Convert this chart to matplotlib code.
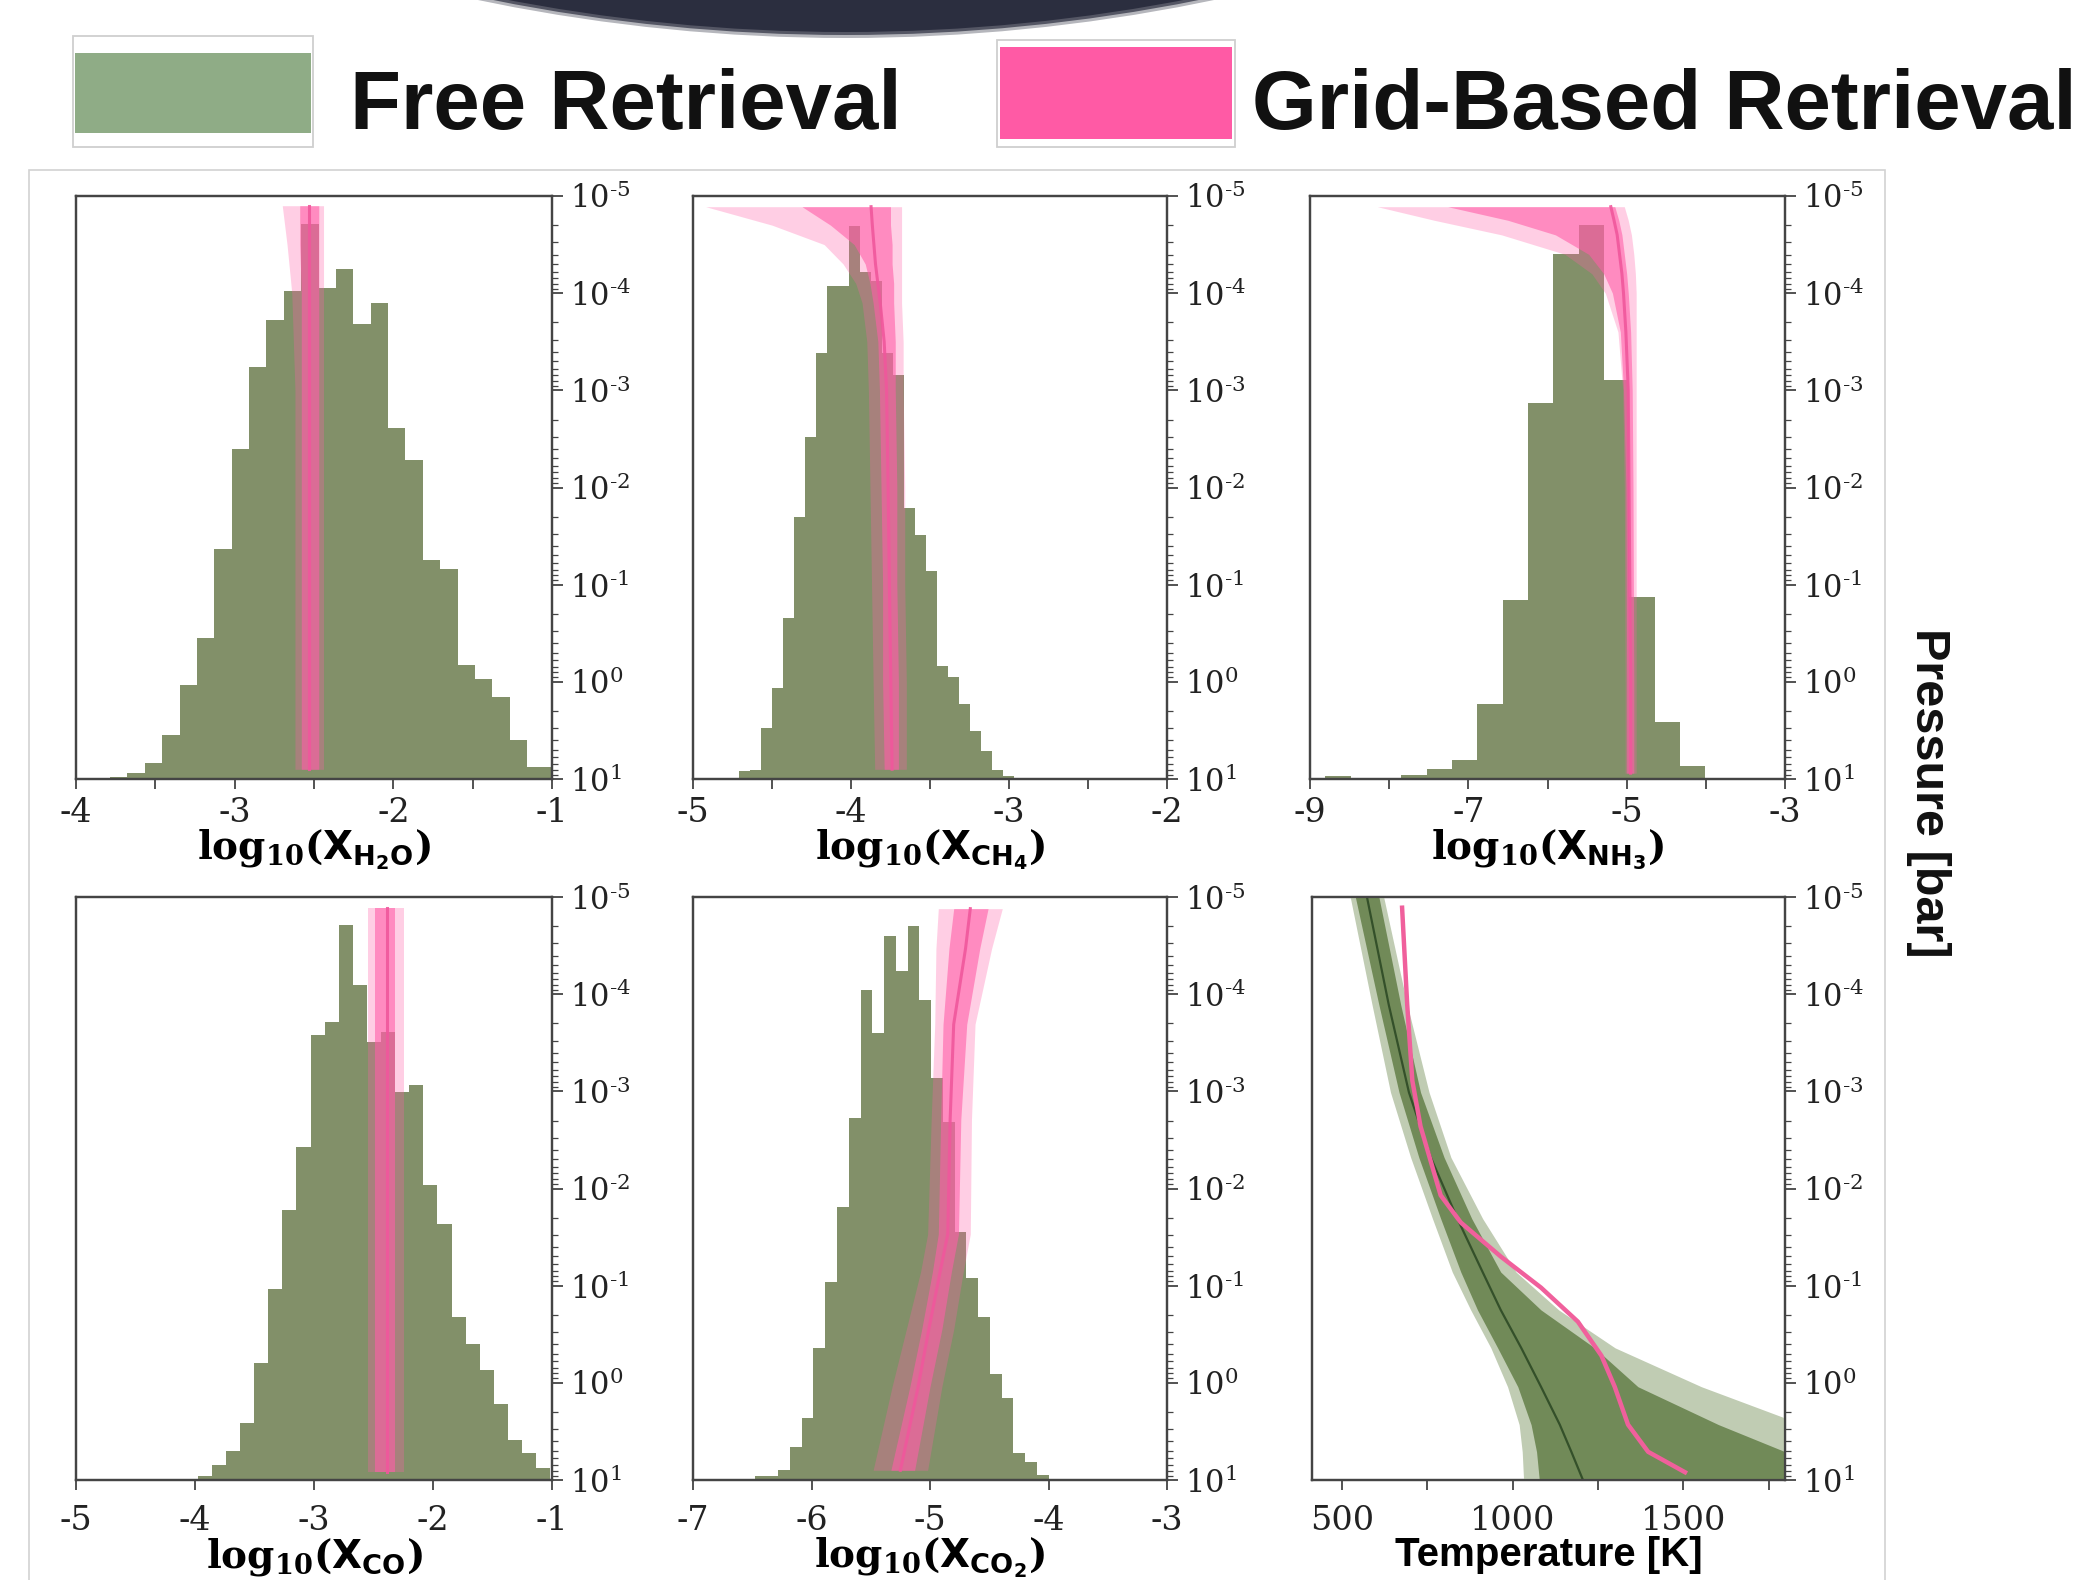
import numpy as np
import matplotlib
matplotlib.use("Agg")
import matplotlib.pyplot as plt
from matplotlib.patches import Circle, Rectangle
from matplotlib.ticker import FixedLocator, NullFormatter, FuncFormatter

# ---- free retrieval histograms (relative heights, 1 = top of axis) ----
h2o_bin_start, h2o_bin_width = -3.895, 0.1095
h2o_counts = [0.002, 0.003, 0.011, 0.027, 0.076, 0.161, 0.242, 0.394, 0.566,
              0.707, 0.787, 0.837, 0.952, 0.843, 0.874, 0.780, 0.816, 0.602,
              0.547, 0.375, 0.361, 0.195, 0.172, 0.141, 0.067, 0.021, 0.021]

ch4_bin_start, ch4_bin_width = -4.711, 0.0697
ch4_counts = [0.014, 0.016, 0.087, 0.156, 0.276, 0.450, 0.586, 0.731, 0.845,
              0.845, 0.949, 0.869, 0.855, 0.731, 0.693, 0.464, 0.418, 0.356,
              0.194, 0.175, 0.129, 0.082, 0.048, 0.016, 0.005]

nh3_bin_start, nh3_bin_width = -8.806, 0.32
nh3_counts = [0.005, 0.001, 0.002, 0.007, 0.018, 0.033, 0.129, 0.307, 0.645,
              0.900, 0.950, 0.684, 0.312, 0.097, 0.023]

co_bin_start, co_bin_width = -3.977, 0.1185
co_counts = [0.007, 0.026, 0.050, 0.098, 0.200, 0.327, 0.463, 0.571, 0.764,
             0.786, 0.952, 0.849, 0.751, 0.768, 0.665, 0.677, 0.506, 0.439,
             0.280, 0.234, 0.188, 0.131, 0.069, 0.046, 0.020]

co2_bin_start, co2_bin_width = -6.48, 0.0993
co2_counts = [0.007, 0.007, 0.018, 0.056, 0.107, 0.227, 0.340, 0.469, 0.621,
              0.841, 0.767, 0.933, 0.873, 0.950, 0.824, 0.690, 0.614, 0.426,
              0.346, 0.279, 0.181, 0.141, 0.046, 0.031, 0.008]

# ---- grid-based retrieval abundance profiles (log10 P [bar] -> log10 X) ----
h2o_logp = [-4.9, -4.5, -4.0, -3.0, -1.0, 0.9]
h2o_med = [-2.53, -2.53, -2.53, -2.53, -2.53, -2.53]
h2o_lo1 = [-2.59, -2.59, -2.58, -2.58, -2.58, -2.58]
h2o_hi1 = [-2.47, -2.47, -2.47, -2.47, -2.47, -2.47]
h2o_lo2 = [-2.70, -2.67, -2.64, -2.62, -2.62, -2.62]
h2o_hi2 = [-2.44, -2.44, -2.44, -2.44, -2.44, -2.44]

ch4_logp = [-4.89, -4.7, -4.5, -4.3, -4.1, -3.9, -3.5, -3.0, -2.0, -1.0, 0.0, 0.9]
ch4_med = [-3.873, -3.865, -3.855, -3.845, -3.83, -3.815, -3.79, -3.775, -3.765, -3.757, -3.748, -3.74]
ch4_lo1 = [-4.31, -4.13, -3.98, -3.91, -3.88, -3.86, -3.83, -3.82, -3.81, -3.80, -3.80, -3.79]
ch4_hi1 = [-3.75, -3.75, -3.74, -3.74, -3.73, -3.73, -3.72, -3.72, -3.71, -3.71, -3.70, -3.70]
ch4_lo2 = [-4.92, -4.50, -4.17, -4.05, -3.97, -3.93, -3.90, -3.89, -3.88, -3.87, -3.86, -3.85]
ch4_hi2 = [-3.68, -3.68, -3.68, -3.68, -3.68, -3.68, -3.67, -3.67, -3.66, -3.66, -3.65, -3.65]

nh3_logp = [-4.89, -4.75, -4.6, -4.4, -4.2, -4.0, -3.6, -3.0, -2.0, 0.0, 0.94]
nh3_med = [-5.20, -5.16, -5.12, -5.09, -5.06, -5.04, -5.01, -4.98, -4.97, -4.95, -4.95]
nh3_lo1 = [-7.26, -6.50, -5.90, -5.48, -5.29, -5.18, -5.08, -5.04, -5.01, -5.00, -5.00]
nh3_hi1 = [-5.15, -5.10, -5.06, -5.03, -5.00, -4.98, -4.95, -4.93, -4.92, -4.91, -4.91]
nh3_lo2 = [-8.15, -7.43, -6.58, -5.78, -5.44, -5.27, -5.11, -5.05, -5.03, -5.02, -5.02]
nh3_hi2 = [-5.03, -4.98, -4.94, -4.91, -4.89, -4.88, -4.88, -4.88, -4.88, -4.88, -4.88]

co_logp = [-4.89, -2.0, 0.92]
co_med = [-2.39, -2.39, -2.39]
co_lo1 = [-2.49, -2.49, -2.49]
co_hi1 = [-2.32, -2.32, -2.32]
co_lo2 = [-2.55, -2.55, -2.55]
co_hi2 = [-2.24, -2.24, -2.24]

co2_logp = [-4.88, -4.47, -3.69, -2.71, -1.53, -1.14, -0.55, 0.04, 0.90]
co2_med = [-4.66, -4.70, -4.80, -4.83, -4.85, -4.915, -5.01, -5.10, -5.25]
co2_lo1 = [-4.80, -4.84, -4.89, -4.91, -4.93, -4.98, -5.07, -5.17, -5.33]
co2_hi1 = [-4.51, -4.58, -4.69, -4.74, -4.76, -4.82, -4.90, -5.00, -5.13]
co2_lo2 = [-4.93, -4.95, -4.96, -4.99, -5.02, -5.08, -5.20, -5.32, -5.48]
co2_hi2 = [-4.39, -4.48, -4.62, -4.65, -4.66, -4.72, -4.80, -4.90, -5.02]

# ---- temperature profiles ----
tp_logp = [-5.0, -3.89, -2.99, -2.32, -1.69, -1.14, -0.75, -0.36, 0.04, 0.43, 0.71, 1.0]
tp_free_med = [573, 637, 696, 760, 838, 912, 965, 1025, 1083, 1138, 1172, 1206]
tp_free_lo1 = [539, 608, 667, 725, 789, 848, 897, 956, 1015, 1054, 1070, 1078]
tp_free_hi1 = [608, 672, 730, 799, 880, 965, 1083, 1240, 1367, 1603, 1799, 1950]
tp_free_lo2 = [524, 588, 642, 701, 765, 823, 877, 936, 985, 1019, 1028, 1032]
tp_free_hi2 = [622, 691, 755, 819, 912, 1010, 1135, 1300, 1553, 1850, 2000, 2100]

tp_grid_logp = [-4.89, -3.89, -3.11, -2.64, -1.93, -1.65, -1.30, -0.98, -0.63, -0.28, 0.04, 0.43, 0.71, 0.92]
tp_grid_T = [676, 691, 706, 730, 789, 848, 965, 1083, 1191, 1260, 1299, 1338, 1397, 1505]

legend_labels = ["Free Retrieval", "Grid-Based Retrieval"]

GREEN = "#829069"
PINK = "#ff5fa8"
SPINE = "#444444"

plt.rcParams["font.family"] = "DejaVu Serif"
plt.rcParams["mathtext.fontset"] = "custom"
plt.rcParams["mathtext.rm"] = "DejaVu Serif"
plt.rcParams["mathtext.sf"] = "DejaVu Sans:bold"
plt.rcParams["mathtext.bf"] = "DejaVu Serif:bold"
plt.rcParams["axes.unicode_minus"] = False
plt.rcParams["text.color"] = "#222222"
plt.rcParams["xtick.color"] = SPINE
plt.rcParams["ytick.color"] = SPINE
plt.rcParams["xtick.labelcolor"] = "#222222"
plt.rcParams["ytick.labelcolor"] = "#222222"

W, H = 2089, 1580
fig = plt.figure(figsize=(W / 100, H / 100), dpi=100)


def px_axes(x0, y0, x1, y1):
    return fig.add_axes([x0 / W, 1 - y1 / H, (x1 - x0) / W, (y1 - y0) / H])


def pressure_label(v, pos):
    e = int(round(np.log10(v)))
    if e < 0:
        return r"$\mathdefault{10^{\text{-}%d}}$" % (-e)
    return r"$\mathdefault{10^{%d}}$" % e


def style_axes(ax, ax2, xlim, major, minor, xlabel, label_kw, tick_pad):
    ax.set_xlim(*xlim)
    ax.set_ylim(0, 1)
    ax.set_yticks([])
    for s in list(ax.spines.values()) + list(ax2.spines.values()):
        s.set_color(SPINE)
        s.set_linewidth(1.6)
    ax.xaxis.set_major_locator(FixedLocator(major))
    ax.xaxis.set_minor_locator(FixedLocator(minor))
    ax.xaxis.set_minor_formatter(NullFormatter())
    ax.tick_params(axis="x", which="both", direction="out", length=7, width=1.3,
                   labelsize=24, pad=tick_pad)
    ax.set_xlabel(xlabel, labelpad=-1, **label_kw)
    ax2.set_yscale("log")
    ax2.set_ylim(10, 1e-5)
    ax2.yaxis.set_major_formatter(FuncFormatter(pressure_label))
    ax2.tick_params(axis="y", which="major", direction="out", length=8, width=1.3,
                    labelsize=22, pad=5)
    ax2.tick_params(axis="y", which="minor", direction="out", length=4, width=0.9)


def hist_panel(box, start, width, counts, logp, med, lo1, hi1, lo2, hi2,
               xlim, major, minor, species, tick_pad):
    ax = px_axes(*box)
    edges = start + width * np.arange(len(counts) + 1)
    ax.stairs(counts, edges, fill=True, color=GREEN, zorder=1)
    ax2 = ax.twinx()
    p = 10.0 ** np.array(logp)
    ax2.fill_betweenx(p, lo2, hi2, color=PINK, alpha=0.3, lw=0)
    ax2.fill_betweenx(p, lo1, hi1, color=PINK, alpha=0.6, lw=0)
    ax2.plot(med, p, color="#f0579c", lw=2.2, alpha=0.9)
    label = r"$\mathbf{log}_{\mathbf{10}}\mathbf{(}\mathsf{X}_{\mathsf{%s}}\mathbf{)}$" % species
    style_axes(ax, ax2, xlim, major, minor, label, {"fontsize": 28}, tick_pad)
    return ax


hist_panel((76, 196, 552, 779), h2o_bin_start, h2o_bin_width, h2o_counts,
           h2o_logp, h2o_med, h2o_lo1, h2o_hi1, h2o_lo2, h2o_hi2,
           (-4, -1), [-4, -3, -2, -1], [-3.5, -2.5, -1.5], "H_2O", 6)
hist_panel((693, 196, 1167, 779), ch4_bin_start, ch4_bin_width, ch4_counts,
           ch4_logp, ch4_med, ch4_lo1, ch4_hi1, ch4_lo2, ch4_hi2,
           (-5, -2), [-5, -4, -3, -2], [-4.5, -3.5, -2.5], "CH_4", 6)
hist_panel((1310, 196, 1785, 779), nh3_bin_start, nh3_bin_width, nh3_counts,
           nh3_logp, nh3_med, nh3_lo1, nh3_hi1, nh3_lo2, nh3_hi2,
           (-9, -3), [-9, -7, -5, -3], [-8, -6, -4], "NH_3", 6)
hist_panel((76, 897, 552, 1480), co_bin_start, co_bin_width, co_counts,
           co_logp, co_med, co_lo1, co_hi1, co_lo2, co_hi2,
           (-5, -1), [-5, -4, -3, -2, -1], [], "CO", 11)
hist_panel((693, 897, 1167, 1480), co2_bin_start, co2_bin_width, co2_counts,
           co2_logp, co2_med, co2_lo1, co2_hi1, co2_lo2, co2_hi2,
           (-7, -3), [-7, -6, -5, -4, -3], [], "CO_2", 11)

# temperature panel
ax = px_axes(1312, 897, 1785, 1480)
ax2 = ax.twinx()
p = 10.0 ** np.array(tp_logp)
ax2.fill_betweenx(p, tp_free_lo2, tp_free_hi2, color="#c0ccb3", lw=0)
ax2.fill_betweenx(p, tp_free_lo1, tp_free_hi1, color="#718a58", lw=0)
ax2.plot(tp_free_med, p, color="#34502a", lw=1.6)
ax2.plot(tp_grid_T, 10.0 ** np.array(tp_grid_logp), color="#f0609c", lw=3.2)
style_axes(ax, ax2, (412, 1798), [500, 1000, 1500], [750, 1250, 1750],
           "Temperature [K]",
           {"fontsize": 29, "family": "Liberation Sans", "fontweight": "bold"}, 11)

fig.text(1929 / W, 1 - 793 / H, "Pressure [bar]", rotation=-90, ha="center",
         va="center", fontsize=35, fontweight="bold", family="Liberation Sans",
         color="#111111")

# legend drawn as boxes with labels, like the pasted key in the original
key_boxes = [((73, 36, 313, 147), (75, 53, 311, 133), "#8fac86", 350),
             ((997, 40, 1235, 147), (1000, 47, 1232, 139), "#ff5aa5", 1252)]
for (outer, inner, color, tx), text in zip(key_boxes, legend_labels):
    x0, y0, x1, y1 = outer
    fig.add_artist(Rectangle((x0 / W, 1 - y1 / H), (x1 - x0) / W, (y1 - y0) / H,
                             transform=fig.transFigure, facecolor="white",
                             edgecolor="#cfcfcf", lw=1.3))
    x0, y0, x1, y1 = inner
    fig.add_artist(Rectangle((x0 / W, 1 - y1 / H), (x1 - x0) / W, (y1 - y0) / H,
                             transform=fig.transFigure, facecolor=color,
                             edgecolor="none"))
    fig.text(tx / W, 1 - 129 / H, text, ha="left", va="baseline", fontsize=60,
             fontweight="bold", family="Liberation Sans", color="#111111")

# dark shape cut off at the top edge and the thin border around the panels
for r, a in [(18.03, 0.35), (18.0, 0.7), (17.97, 1.0)]:
    fig.add_artist(Circle((8.46, 33.45), r, transform=fig.dpi_scale_trans,
                          facecolor="#2b2e3f", edgecolor="none", alpha=a))
fig.add_artist(Rectangle((29 / W, -0.01), (1885 - 29) / W, (1580 - 170) / H + 0.01,
                         transform=fig.transFigure, fill=False,
                         edgecolor="#d2d2d2", lw=1.2))

fig.savefig("out.png", dpi=100)
